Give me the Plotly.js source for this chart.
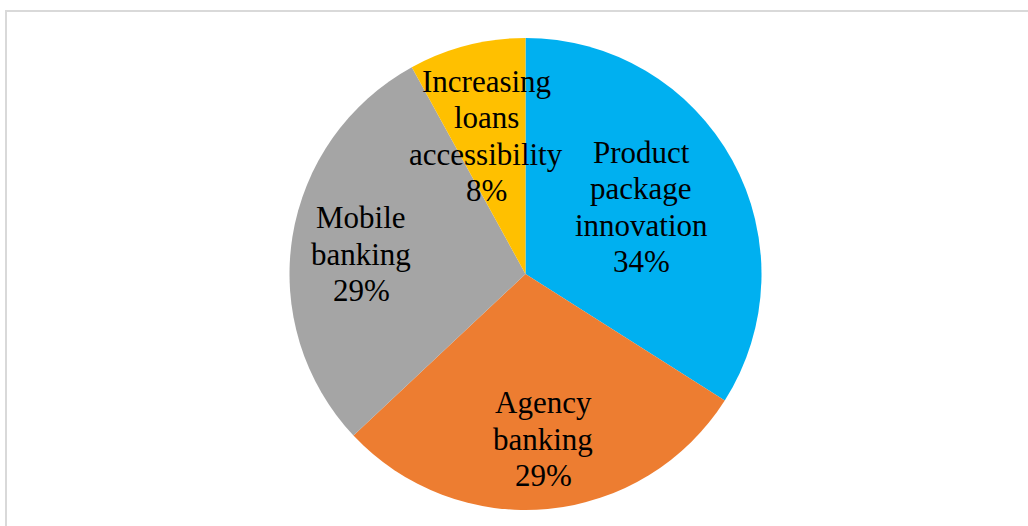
<!DOCTYPE html>
<html>
<head>
<meta charset="utf-8">
<script src="https://cdn.plot.ly/plotly-3.0.1.min.js"></script>
<style>html,body{margin:0;padding:0;background:#fff;}#chart{width:1028px;height:526px;}</style>
</head>
<body>
<div id="chart"></div>
<script>
const categories = ["Product<br>package<br>innovation", "Agency<br>banking", "Mobile<br>banking", "Increasing<br>loans<br>accessibility"];
const values = [34, 29, 29, 8];
const colors = ["#00B0F0", "#ED7D31", "#A5A5A5", "#FFC000"];
// label block centres in pixels (layout only)
const labelPos = [[641, 207], [543, 439], [361, 254], [486, 136]];

const W = 1028, H = 526;
const total = values.reduce((a, b) => a + b, 0);
const annotations = [];
categories.forEach((c, i) => {
  const lines = c.split("<br>").concat([Math.round(values[i] / total * 100) + "%"]);
  const spacing = 36.5;
  const [cx, cy] = labelPos[i];
  lines.forEach((ln, j) => {
    const py = cy + (j - (lines.length - 1) / 2) * spacing;
    annotations.push({
      x: cx / W, y: 1 - py / H, xref: "paper", yref: "paper",
      text: ln, showarrow: false, xanchor: "center", yanchor: "middle",
      font: {family: "Liberation Serif, Times New Roman, serif", size: 31, color: "#000"}
    });
  });
});

const cxp = 525.5, cyp = 274, r = 236;
const data = [{
  type: "pie",
  labels: categories.map(c => c.replace(/<br>/g, " ")),
  values: values,
  marker: {colors: colors, line: {width: 0}},
  sort: false,
  direction: "clockwise",
  rotation: 0,
  textinfo: "none",
  hoverinfo: "label+percent",
  domain: {x: [(cxp - r) / W, (cxp + r) / W], y: [1 - (cyp + r) / H, 1 - (cyp - r) / H]}
}];

const layout = {
  width: W, height: H,
  margin: {l: 0, r: 0, t: 0, b: 0},
  paper_bgcolor: "#fff",
  showlegend: false,
  annotations: annotations,
  shapes: [{type: "rect", xref: "paper", yref: "paper", x0: 6 / W, x1: 1.05, y0: -0.05, y1: 1 - 11 / H,
    line: {color: "#D9D9D9", width: 2}, fillcolor: "rgba(0,0,0,0)"}]
};
Plotly.newPlot("chart", data, layout, {displayModeBar: false, staticPlot: true});
</script>
</body>
</html>
